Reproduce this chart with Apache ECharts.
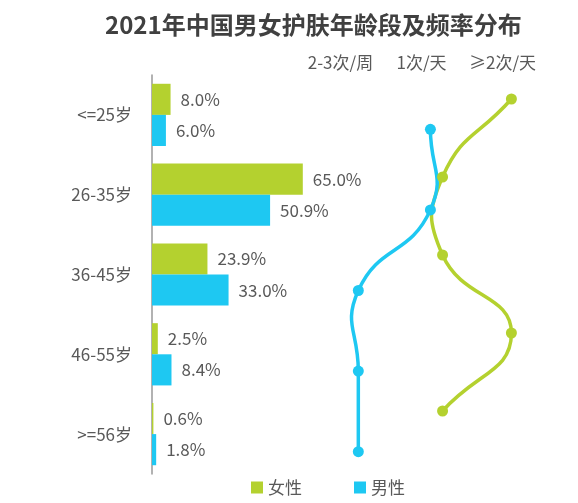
<!DOCTYPE html>
<html>
<head>
<meta charset="utf-8">
<script src="https://cdn.jsdelivr.net/npm/echarts@6/dist/echarts.min.js"></script>
<style>
  html, body { margin: 0; padding: 0; background: #fff; }
  #main { width: 578px; height: 503px; }
</style>
</head>
<body>
<div id="main"></div>
<script>
// 数据
var ageGroups = ['<=25岁', '26-35岁', '36-45岁', '46-55岁', '>=56岁'];
var femaleShare = [8.0, 65.0, 23.9, 2.5, 0.6];
var maleShare = [6.0, 50.9, 33.0, 8.4, 1.8];
var freqLabels = ['2-3次/周', '1次/天', '≥2次/天'];
// 频率折线的横向位置
var femaleFreq = [2.61, 1.76, 1.76, 2.61, 1.76];
var maleFreq = [1.61, 1.61, 0.72, 0.72, 0.72];

var green = '#b4d12f';
var blue = '#1ec8f2';
var textColor = '#595959';
var font = '"Noto Sans CJK SC", "Noto Sans", sans-serif';

// 平滑曲线的控制点(不做越界裁剪)
function ctrlPoint(prev, cur, next, dir) {
    var vx = next[0] - prev[0], vy = next[1] - prev[1];
    var lenPrev = Math.hypot(cur[0] - prev[0], cur[1] - prev[1]);
    var lenNext = Math.hypot(next[0] - cur[0], next[1] - cur[1]);
    var sum = lenPrev + lenNext;
    if (!sum) return cur.slice();
    var ratio = dir > 0 ? lenNext / sum : lenPrev / sum;
    return [cur[0] + dir * vx * 0.5 * ratio, cur[1] + dir * vy * 0.5 * ratio];
}

function curveRenderer(freq, color) {
    return function (params, api) {
        var i = params.dataIndex;
        if (i >= freq.length - 1) return;
        var pt = function (j) {
            j = Math.max(0, Math.min(freq.length - 1, j));
            return api.coord([freq[j], j]);
        };
        var p0 = pt(i - 1), p1 = pt(i), p2 = pt(i + 1), p3 = pt(i + 2);
        var c1 = ctrlPoint(p0, p1, p2, 1);
        var c2 = ctrlPoint(p1, p2, p3, -1);
        return {
            type: 'bezierCurve',
            shape: {
                x1: p1[0], y1: p1[1], x2: p2[0], y2: p2[1],
                cpx1: c1[0], cpy1: c1[1], cpx2: c2[0], cpy2: c2[1]
            },
            style: { stroke: color, lineWidth: 3.5, fill: null, lineCap: 'round' }
        };
    };
}

var chart = echarts.init(document.getElementById('main'));

var option = {
    backgroundColor: '#fff',
    animation: false,
    textStyle: { fontFamily: font },
    title: {
        text: '2021年中国男女护肤年龄段及频率分布',
        left: 100,
        top: 8,
        textStyle: { fontSize: 24, fontWeight: 'bold', color: '#404040', fontFamily: font }
    },
    legend: {
        data: ['女性', '男性'],
        bottom: 2,
        left: 246,
        icon: 'rect',
        itemWidth: 12,
        itemHeight: 12,
        itemGap: 52,
        textStyle: { fontSize: 17, color: textColor, fontFamily: font }
    },
    grid: [
        // 条形图
        { left: 152, right: 194, top: 75, bottom: 29 },
        // 女性频率
        { left: 300, right: 35, top: 60, bottom: 53 },
        // 男性频率
        { left: 300, right: 35, top: 89, bottom: 11 },
        // 频率标签
        { left: 300, right: 35, top: 72, height: 10 }
    ],
    xAxis: [
        { gridIndex: 0, type: 'value', min: 0, max: 100, show: false },
        { gridIndex: 1, type: 'value', min: 0, max: 3, show: false },
        { gridIndex: 2, type: 'value', min: 0, max: 3, show: false },
        {
            gridIndex: 3, type: 'category', position: 'top', data: freqLabels,
            axisLine: { show: false }, axisTick: { show: false }, splitLine: { show: false },
            axisLabel: { interval: 0, hideOverlap: false, margin: 1, fontSize: 17, color: textColor }
        }
    ],
    yAxis: [
        {
            gridIndex: 0, type: 'category', data: ageGroups, inverse: true,
            axisLine: { lineStyle: { color: '#999', width: 1.5 } },
            axisTick: { show: false },
            axisLabel: { margin: 20, fontSize: 17, color: textColor }
        },
        { gridIndex: 1, type: 'category', data: ageGroups, inverse: true, show: false },
        { gridIndex: 2, type: 'category', data: ageGroups, inverse: true, show: false },
        { gridIndex: 3, type: 'value', show: false }
    ],
    series: [
        {
            name: '女性', type: 'bar', xAxisIndex: 0, yAxisIndex: 0,
            data: femaleShare,
            barGap: '0%', barCategoryGap: '22%',
            itemStyle: { color: green },
            label: {
                show: true, position: 'right', distance: 10,
                fontSize: 17, color: textColor,
                formatter: function (p) { return p.value.toFixed(1) + '%'; }
            }
        },
        {
            name: '男性', type: 'bar', xAxisIndex: 0, yAxisIndex: 0,
            data: maleShare,
            barGap: '0%', barCategoryGap: '22%',
            itemStyle: { color: blue },
            label: {
                show: true, position: 'right', distance: 10,
                fontSize: 17, color: textColor,
                formatter: function (p) { return p.value.toFixed(1) + '%'; }
            }
        },
        // 曲线
        {
            type: 'custom', xAxisIndex: 1, yAxisIndex: 1, z: 1,
            data: femaleFreq.map(function (v, i) { return [v, i]; }),
            renderItem: curveRenderer(femaleFreq, green),
            silent: true
        },
        {
            type: 'custom', xAxisIndex: 2, yAxisIndex: 2, z: 1,
            data: maleFreq.map(function (v, i) { return [v, i]; }),
            renderItem: curveRenderer(maleFreq, blue),
            silent: true
        },
        // 圆点
        {
            name: '女性', type: 'line', xAxisIndex: 1, yAxisIndex: 1, z: 3,
            data: femaleFreq,
            symbol: 'circle', symbolSize: 11,
            lineStyle: { color: green, opacity: 0 },
            itemStyle: { color: green }
        },
        {
            name: '男性', type: 'line', xAxisIndex: 2, yAxisIndex: 2, z: 3,
            data: maleFreq,
            symbol: 'circle', symbolSize: 11,
            lineStyle: { color: blue, opacity: 0 },
            itemStyle: { color: blue }
        }
    ]
};

chart.setOption(option);
window.addEventListener('resize', function () { chart.resize(); });
</script>
</body>
</html>
